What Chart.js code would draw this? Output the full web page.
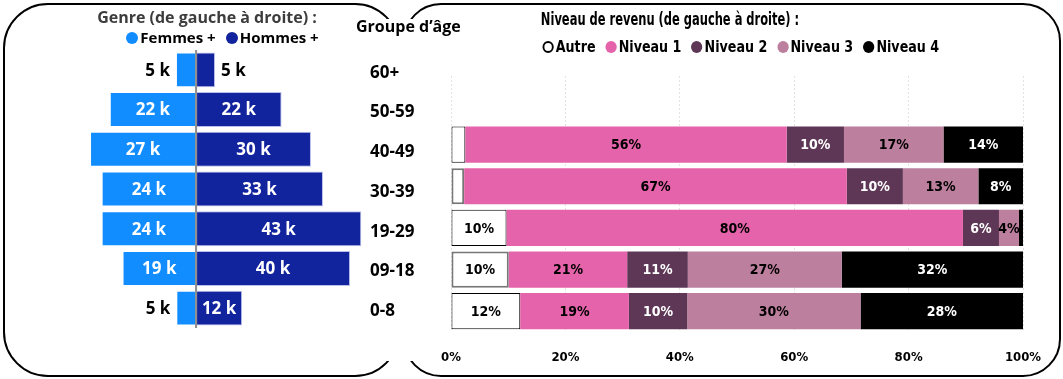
<!DOCTYPE html>
<html>
<head>
<meta charset="utf-8">
<script src="https://cdn.jsdelivr.net/npm/chart.js@4.4.0/dist/chart.umd.min.js"></script>
<style>
  body { margin: 0; width: 1063px; height: 379px; background: #fff; position: relative; overflow: hidden; font-family: 'Open Sans', sans-serif; }
  .panel { position: absolute; border: 2px solid #000; box-sizing: border-box; }
  #panelL { left: 3px; top: 3px; width: 397px; height: 374px; border-radius: 45px; }
  #panelR { left: 403px; top: 3px; width: 658px; height: 374px; border-radius: 38px; }
  #gap { position: absolute; left: 386px; top: 19px; width: 32px; height: 342px; background: #fff; }
  .txt { position: absolute; white-space: nowrap; font-weight: 700; }
  .narrow { font-family: 'DejaVu Sans Condensed', sans-serif; transform-origin: 50% 50%; }
  #titleL { left: 0; width: 414px; top: 6px; text-align: center; font-size: 16px; color: #3c3c3c; }
  #ageTitle { left: 356px; top: 15px; font-size: 16px; color: #000; }
  #legL { left: 0; width: 439px; top: 27px; text-align: center; font-size: 15px; color: #000; }
  #titleR { left: 470px; width: 400px; top: 9px; text-align: center; font-size: 17px; color: #000; transform: scaleX(0.75); }
  #mask { position: absolute; left: 440px; top: 30px; width: 600px; height: 44px; background: #fff; }
  #legR { left: 470px; width: 536px; top: 38px; text-align: center; font-size: 15px; color: #000; transform: scaleX(0.94); }
  .dot { display: inline-block; width: 12px; height: 12px; border-radius: 50%; margin: 0 2px 0 6px; vertical-align: -1px; box-sizing: border-box; }
  canvas { position: absolute; top: 0; }
  #pyramid { left: 0; }
  #revenue { left: 420px; }
</style>
</head>
<body>
<div id="panelL" class="panel"></div>
<div id="panelR" class="panel"></div>
<div id="gap"></div>

<canvas id="pyramid" width="480" height="379"></canvas>
<canvas id="revenue" width="643" height="379"></canvas>
<div id="mask"></div>

<div id="titleL" class="txt">Genre (de gauche à droite) :</div>
<div id="ageTitle" class="txt">Groupe d’âge</div>
<div id="legL" class="txt"></div>
<div id="titleR" class="txt narrow">Niveau de revenu (de gauche à droite) :</div>
<div id="legR" class="txt narrow"></div>

<script>
// --- données ---
const ageGroups = ['60+', '50-59', '40-49', '30-39', '19-29', '09-18', '0-8'];
const femmes = [5.2, 22.3, 27.4, 24.4, 24.4, 19.0, 5.1];   // milliers
const hommes = [4.9, 22.1, 29.7, 32.8, 42.7, 39.8, 11.9];

const niveaux = ['Autre', 'Niveau 1', 'Niveau 2', 'Niveau 3', 'Niveau 4'];
const autre   = [null, null, 2.5, 2.3, 9.7, 10.1, 12.1];   // %
const niveau1 = [null, null, 56.2, 66.9, 79.8, 20.7, 19.0];
const niveau2 = [null, null, 10.0, 9.8, 6.3, 10.6, 10.2];
const niveau3 = [null, null, 17.4, 13.2, 3.5, 26.9, 30.3];
const niveau4 = [null, null, 13.9, 7.8, 0.7, 31.7, 28.4];
const pctTicks = [0, 20, 40, 60, 80, 100];

const genreColors = ['#118DFF', '#12239E'];
const niveauColors = ['#FFFFFF', '#E563AA', '#5E3756', '#BD7F9E', '#000000'];
const niveauText = ['#000', '#000', '#fff', '#000', '#fff'];
const NARROW = "'DejaVu Sans Condensed', sans-serif";

// --- légendes HTML ---
document.getElementById('legL').innerHTML =
  `<span class="dot" style="background:${genreColors[0]}"></span>Femmes +` +
  `<span class="dot" style="background:${genreColors[1]};margin-left:10px"></span>Hommes +`;
document.getElementById('legR').innerHTML = niveaux.map((n, i) => i === 0
  ? `<span class="dot" style="border:2px solid #000"></span>${n}`
  : `<span class="dot" style="background:${niveauColors[i]}"></span>${n}`).join(' ');

// --- pyramide ---
const pyramidPlugin = {
  id: 'pyramidPlugin',
  afterDatasetsDraw(chart) {
    const ctx = chart.ctx;
    const zero = chart.scales.x.getPixelForValue(0);
    ctx.save();
    ctx.strokeStyle = '#8c8c8c'; ctx.lineWidth = 2;
    ctx.beginPath(); ctx.moveTo(zero, chart.chartArea.top); ctx.lineTo(zero, chart.chartArea.bottom); ctx.stroke();
    ctx.font = "bold 17px 'Open Sans'";
    ctx.textBaseline = 'middle';
    chart.data.datasets.forEach((ds, di) => {
      chart.getDatasetMeta(di).data.forEach((bar, i) => {
        const v = ds.data[i];
        const txt = Math.round(Math.abs(v)) + ' k';
        const w = Math.abs(bar.x - bar.base);
        if (w > ctx.measureText(txt).width + 8) {
          ctx.fillStyle = '#fff'; ctx.textAlign = 'center';
          ctx.fillText(txt, (bar.x + bar.base) / 2, bar.y + 1);
        } else {
          const left = v < 0;
          ctx.fillStyle = '#000'; ctx.textAlign = left ? 'right' : 'left';
          ctx.fillText(txt, bar.x + (left ? -6 : 6), bar.y + 1);
        }
      });
    });
    ctx.restore();
  }
};

new Chart(document.getElementById('pyramid'), {
  type: 'bar',
  data: {
    labels: ageGroups,
    datasets: [
      { label: 'Femmes +', data: femmes.map(v => -v), backgroundColor: genreColors[0], borderColor: 'rgba(255,255,255,0.45)', borderWidth: 1, borderSkipped: false },
      { label: 'Hommes +', data: hommes, backgroundColor: genreColors[1], borderColor: 'rgba(140,150,220,0.6)', borderWidth: 1, borderSkipped: false }
    ]
  },
  options: {
    indexAxis: 'y', responsive: false, animation: false, devicePixelRatio: 1,
    barPercentage: 0.88, categoryPercentage: 1,
    layout: { padding: { left: 20, top: 50, bottom: 51, right: 0 } },
    plugins: { legend: { display: false }, tooltip: { enabled: false } },
    scales: {
      x: { stacked: true, display: false, min: -45.5, max: 43.4 },
      y: {
        stacked: true, position: 'right',
        afterFit: s => { s.width = 116; },
        grid: { display: false, drawTicks: false }, border: { display: false },
        ticks: { crossAlign: 'near', padding: 6, labelOffset: 3, color: '#000', font: { family: "'Open Sans'", size: 17, weight: 'bold' } }
      }
    }
  },
  plugins: [pyramidPlugin]
});

// --- revenu ---
const revenuePlugin = {
  id: 'revenuePlugin',
  afterDatasetsDraw(chart) {
    const ctx = chart.ctx;
    ctx.save();
    ctx.font = `bold 14px ${NARROW}`;
    ctx.textAlign = 'center'; ctx.textBaseline = 'middle';
    chart.data.datasets.forEach((ds, di) => {
      chart.getDatasetMeta(di).data.forEach((bar, i) => {
        const v = ds.data[i];
        if (v == null || v < 3) return;
        ctx.fillStyle = niveauText[di];
        ctx.fillText(Math.round(v) + '%', (bar.x + bar.base) / 2, bar.y + 1);
      });
    });
    ctx.restore();
  }
};

const series = [autre, niveau1, niveau2, niveau3, niveau4];
new Chart(document.getElementById('revenue'), {
  type: 'bar',
  data: {
    labels: ageGroups,
    datasets: series.map((d, i) => ({
      label: niveaux[i], data: d, backgroundColor: niveauColors[i],
      borderColor: i === 0 ? ['#000', '#000', '#000', '#777', '#000', '#777', '#000'] : niveauColors[i],
      borderWidth: i === 0 ? [1, 1, 1, 2, 1, 2, 1] : 0,
      borderSkipped: false
    }))
  },
  options: {
    indexAxis: 'y', responsive: false, animation: false, devicePixelRatio: 1,
    barPercentage: 0.87, categoryPercentage: 1,
    layout: { padding: { left: 31, top: 40.5, right: 40, bottom: 0 } },
    plugins: { legend: { display: false }, tooltip: { enabled: false } },
    scales: {
      x: {
        stacked: true, min: 0, max: 100,
        afterBuildTicks: s => { s.ticks = pctTicks.map(v => ({ value: v })); },
        afterFit: s => { s.height = 47; },
        grid: { color: '#c4c4c4', drawTicks: false },
        border: { display: false, dash: [1, 3] },
        ticks: { padding: 18, color: '#000', callback: v => v + '%', font: { family: NARROW, size: 13, weight: 'bold' } }
      },
      y: { stacked: true, display: false }
    }
  },
  plugins: [revenuePlugin]
});
</script>
</body>
</html>
